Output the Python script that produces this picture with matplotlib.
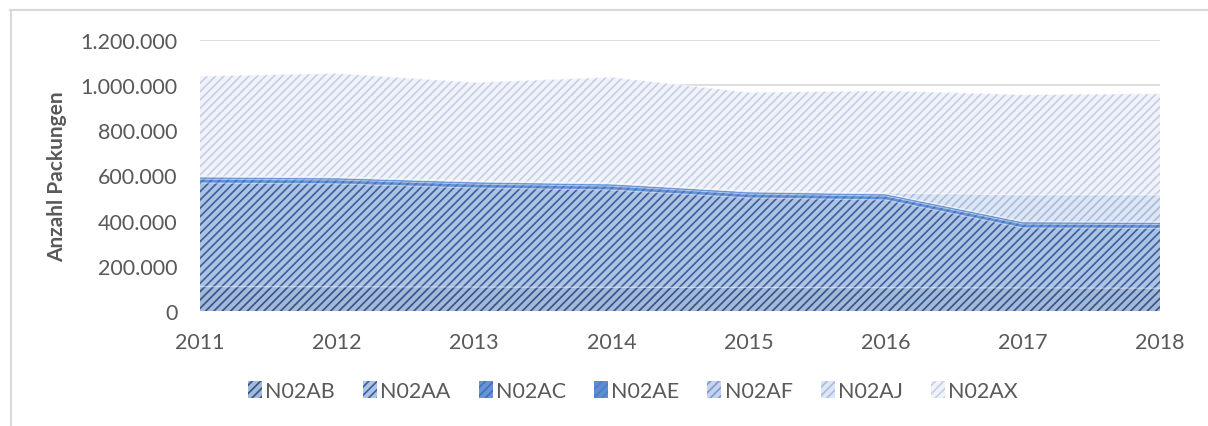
import numpy as np
import matplotlib
matplotlib.use('Agg')
import matplotlib.pyplot as plt
from matplotlib.patches import Patch
from matplotlib.ticker import FuncFormatter

years = [2011, 2012, 2013, 2014, 2015, 2016, 2017, 2018]
series_names = ['N02AB', 'N02AA', 'N02AC', 'N02AE', 'N02AF', 'N02AJ', 'N02AX']
n02ab = [108000, 107000, 106000, 105000, 104000, 103000, 102000, 101000]
n02aa = [459000, 456000, 439000, 431000, 397000, 389000, 266000, 265000]
n02ac = [17000, 17000, 17000, 17000, 17000, 17000, 17000, 17000]
n02ae = [9000, 9000, 9000, 9000, 9000, 9000, 9000, 9000]
n02af = [2000, 2000, 2000, 2000, 2000, 2000, 3000, 3000]
n02aj = [3000, 3000, 3000, 3000, 3000, 3000, 117000, 119000]
n02ax = [442000, 458000, 436000, 468000, 436000, 452000, 444000, 448000]

# pattern colours (stripe colour, background colour)
stripe = ['#2E5590', '#3560A3', '#3D70C0', '#4A7EC9', '#7A9BD2', '#A8BBE0', '#C3CFE8']
back = ['#A5B8D6', '#AFC2E0', '#6A93D3', '#5D8CD0', '#C5D3EC', '#DFE6F3', '#F1F3F9']

plt.rcParams['font.family'] = ['Lato', 'DejaVu Sans']
plt.rcParams['hatch.linewidth'] = 1.2
text_col = '#595959'

fig = plt.figure(figsize=(12.08, 4.27), dpi=100)
ax = fig.add_axes([200 / 1208, 1 - 312 / 427, 960 / 1208, 271 / 427])

data = [n02ab, n02aa, n02ac, n02ae, n02af, n02aj, n02ax]
bottom = np.zeros(len(years))
for vals, fg, bg in zip(data, stripe, back):
    top = bottom + np.array(vals)
    ax.fill_between(years, bottom, top, facecolor=bg, edgecolor=fg,
                    linewidth=0, hatch='////', zorder=2)
    ax.plot(years, top, color='white', alpha=0.35, lw=1, zorder=3)
    bottom = top

ax.set_xlim(2011, 2018)
ax.set_ylim(0, 1200000)
ax.set_yticks(np.arange(0, 1200001, 200000))
ax.set_xticks(years)
ax.yaxis.set_major_formatter(FuncFormatter(lambda v, p: f'{int(v):,}'.replace(',', '.')))
ax.grid(axis='y', color='#D9D9D9', lw=1.2, zorder=0)
ax.set_axisbelow(True)
for s in ax.spines.values():
    s.set_visible(False)
ax.tick_params(length=0, labelsize=15.5, colors=text_col)
ax.tick_params(axis='x', pad=15)
ax.tick_params(axis='y', pad=16)
ax.set_ylabel('Anzahl Packungen', fontsize=15, fontweight='bold', color=text_col, labelpad=10)

handles = [Patch(facecolor=bg, edgecolor=fg, linewidth=0, hatch='////')
           for fg, bg in zip(stripe, back)]
fig.legend(handles, series_names, loc='center', bbox_to_anchor=(633 / 1208, 1 - 392 / 427),
           ncol=7, frameon=False, fontsize=15.5, handlelength=0.65, handleheight=0.8,
           handletextpad=0.15, columnspacing=1.3, labelcolor=text_col)

# chart border (cropped at right and bottom)
fig.add_artist(plt.Line2D([10 / 1208, 1], [1 - 11 / 427, 1 - 11 / 427], color='#D9D9D9', lw=1.5))
fig.add_artist(plt.Line2D([11 / 1208, 11 / 1208], [0, 1 - 11 / 427], color='#D9D9D9', lw=1.5))

fig.savefig('out.png', dpi=100)
